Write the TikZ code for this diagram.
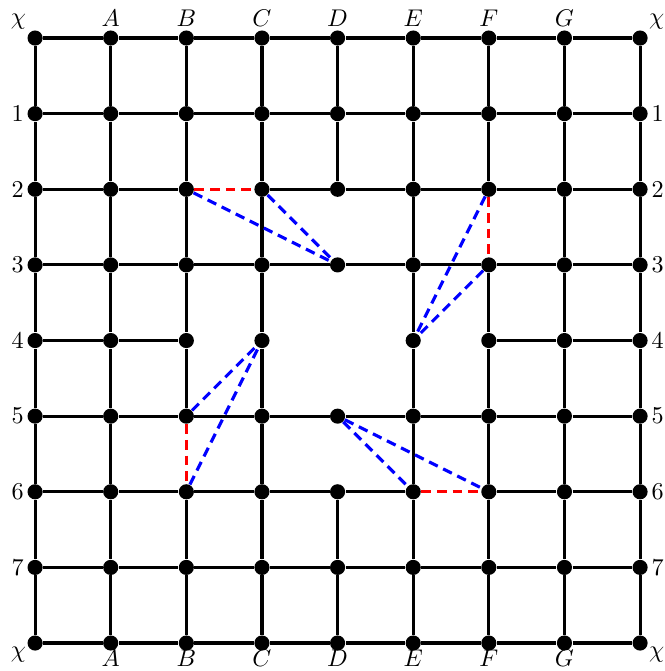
\documentclass[tikz,border=0pt]{standalone}
\usetikzlibrary{positioning}

\begin{document}
\begin{tikzpicture}[
  x=1.1cm, y=-1.1cm,
  dot/.style={circle, fill=black, inner sep=0pt, minimum size=2.2mm},
  lbl/.style={inner sep=1.2pt},
  edge/.style={line width=1.3pt},
  cut/.style={line width=1.3pt, red, dash pattern=on 4pt off 2.5pt},
  tunnel/.style={line width=1.3pt, blue, dash pattern=on 4pt off 2.5pt}
]
  \useasboundingbox (-0.464,-0.503) rectangle (8.323,8.37);
  \def\hole{D4}
  % grid points (no point at D4)
  \foreach \c [count=\i from 0] in {L,A,B,C,D,E,F,G,R}
    \foreach \r in {0,...,8} {
      \edef\cur{\c\r}
      \ifx\cur\hole\else
        \node[dot] (\c\r) at (\i,\r) {};
      \fi
    }

  % labels
  \foreach \c in {A,B,C,D,E,F,G} {
    \node[lbl, above=0pt of \c0] (top\c) {$\c$};
    \node[lbl, below=-2pt of \c8] (bot\c) {$\c$};
  }
  \node[lbl, above left=0pt and 0pt of L0] (chiTL) {$\chi$};
  \node[lbl, above right=0pt and 0pt of R0] (chiTR) {$\chi$};
  \node[lbl, below left=-2pt and 0pt of L8] (chiBL) {$\chi$};
  \node[lbl, below right=-2pt and 0pt of R8] (chiBR) {$\chi$};
  \foreach \r in {1,...,7} {
    \node[lbl, left=0pt of L\r] (lft\r) {\r};
    \node[lbl, right=0pt of R\r] (rgt\r) {\r};
  }

  % horizontal edges
  \foreach \r in {0,1,3,5,7,8}
    \foreach \a/\b in {L/A,A/B,B/C,C/D,D/E,E/F,F/G,G/R}
      \draw[edge] (\a\r) -- (\b\r);
  \foreach \a/\b in {L/A,A/B,C/D,D/E,E/F,F/G,G/R}
    \draw[edge] (\a2) -- (\b2);
  \foreach \a/\b in {L/A,A/B,F/G,G/R}
    \draw[edge] (\a4) -- (\b4);
  \foreach \a/\b in {L/A,A/B,B/C,C/D,D/E,F/G,G/R}
    \draw[edge] (\a6) -- (\b6);

  % vertical edges
  \foreach \c in {L,A,C,E,G,R}
    \foreach \r/\s in {0/1,1/2,2/3,3/4,4/5,5/6,6/7,7/8}
      \draw[edge] (\c\r) -- (\c\s);
  \foreach \r/\s in {0/1,1/2,2/3,3/4,4/5,6/7,7/8}
    \draw[edge] (B\r) -- (B\s);
  \foreach \r/\s in {0/1,1/2,6/7,7/8}
    \draw[edge] (D\r) -- (D\s);
  \foreach \r/\s in {0/1,1/2,3/4,4/5,5/6,6/7,7/8}
    \draw[edge] (F\r) -- (F\s);

  % removed edges
  \draw[cut] (B2) -- (C2);
  \draw[cut] (F2) -- (F3);
  \draw[cut] (B5) -- (B6);
  \draw[cut] (E6) -- (F6);

  % added edges
  \draw[tunnel] (B2) -- (D3);
  \draw[tunnel] (C2) -- (D3);
  \draw[tunnel] (F2) -- (E4);
  \draw[tunnel] (F3) -- (E4);
  \draw[tunnel] (B5) -- (C4);
  \draw[tunnel] (B6) -- (C4);
  \draw[tunnel] (D5) -- (E6);
  \draw[tunnel] (D5) -- (F6);
\end{tikzpicture}
\end{document}
